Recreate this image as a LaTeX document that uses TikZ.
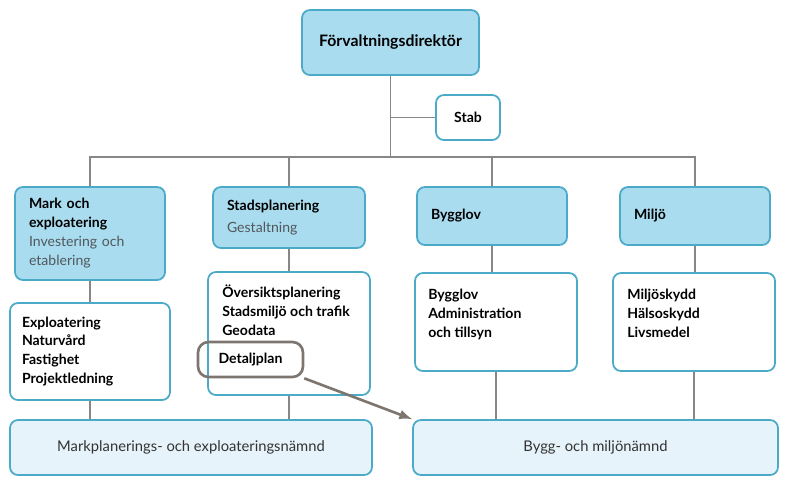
\documentclass[tikz,border=0pt]{standalone}
\usepackage{fontspec}
\setmainfont{Lato}
\usepackage{tikz}

\definecolor{unitblue}{RGB}{170,220,240}
\definecolor{unitedge}{RGB}{75,170,200}
\definecolor{boardblue}{RGB}{230,243,250}
\definecolor{linkgray}{RGB}{135,135,135}
\definecolor{ringgray}{RGB}{125,118,112}
\definecolor{subgray}{RGB}{80,88,92}

\tikzset{
  unit/.style={draw=unitedge, line width=1pt, rounded corners=4.5pt, fill=unitblue,
    font=\bfseries\fontsize{8}{10.8}\selectfont},
  dept/.style={unit, align=left, inner xsep=0.28cm},
  tasks/.style={draw=unitedge, line width=1pt, rounded corners=4.5pt, fill=white,
    minimum width=3.24cm, minimum height=1.96cm},
  tasklist/.style={anchor=base west, inner sep=0pt, align=left,
    font=\bfseries\fontsize{8}{10.8}\selectfont},
  board/.style={draw=unitedge, line width=1pt, rounded corners=4.5pt, fill=boardblue,
    minimum height=1.1cm, text=black!80, font=\fontsize{8.4}{10}\selectfont},
  conn/.style={draw=linkgray, line width=1pt},
  ring/.style={draw=ringgray, line width=1.5pt, rounded corners=6pt},
}

\begin{document}
\begin{tikzpicture}[x=0.02cm, y=-0.02cm]
  \useasboundingbox (0,0) rectangle (790,478);

  \node [unit, minimum width=3.54cm, minimum height=1.3cm, font=\bfseries\fontsize{9}{11}\selectfont] (1) at (390.5,42.5) {Förvaltningsdirektör};
  \node [unit, fill=white, minimum width=1.28cm, minimum height=0.9cm] (2) at (468,117.5) {Stab};

  \node [dept, text width=2.44cm, minimum height=1.86cm] (3) at (90,233.5)
    {Mark och\\exploatering\\{\normalfont\color{subgray}Investering och}\\{\normalfont\color{subgray}etablering}};
  \node [dept, text width=2.48cm, minimum height=1.22cm] (4) at (289,217.5)
    {Stadsplanering\\[2pt]{\normalfont\color{subgray}Gestaltning}};
  \node [dept, text width=2.44cm, minimum height=1.16cm] (5) at (492,216) {Bygglov};
  \node [dept, text width=2.44cm, minimum height=1.16cm] (6) at (695,216) {Miljö};

  \node [tasks, minimum width=3.2cm, minimum height=1.94cm, align=left, text width=2.72cm,
    inner xsep=0.24cm, font=\bfseries\fontsize{8}{10.8}\selectfont] (7) at (90,351.5)
    {Exploatering\\Naturvård\\Fastighet\\Projektledning};
  \node [tasks, minimum height=2.46cm] (8) at (289,333.5) {};
  \node [tasks] (9) at (496,322) {};
  \node [tasks] (10) at (694,322) {};

  \node [tasklist] (8a) at (222,335) {Översiktsplanering\\Stadsmiljö och trafik\\Geodata};
  \node [tasklist] (9a) at (428,337) {Bygglov\\Administration\\och tillsyn};
  \node [tasklist] (10a) at (627,337) {Miljöskydd\\Hälsoskydd\\Livsmedel};

  \node [board, minimum width=7.24cm] (11) at (191,447.5) {Markplanerings- och exploateringsnämnd};
  \node [board, minimum width=7.3cm] (12) at (595.5,447.5) {Bygg- och miljönämnd};

  \node [ring, minimum width=2.1cm, minimum height=0.7cm,
    font=\bfseries\fontsize{8}{10.8}\selectfont] (13) at (250.5,359.5) {Detaljplan};

  \coordinate (bar) at (390.5,157);
  \draw [conn] (1) -- (bar);
  \draw [conn] (2) -- (2 -| 1);
  \draw [conn] (3.north) |- (bar) -| (6.north);
  \draw [conn] (4.north) -- (4.north |- bar);
  \draw [conn] (5.north) -- (5.north |- bar);

  \draw [conn] (3) -- (7);
  \draw [conn] (4) -- (8);
  \draw [conn] (5.south) -- (5.south |- 9.north);
  \draw [conn] (6.south) -- (6.south |- 10.north);

  \draw [conn] (7.south) -- (7.south |- 11.north);
  \draw [conn] (8.south) -- (8.south |- 11.north);
  \draw [conn] (9.south) -- (9.south |- 12.north);
  \draw [conn] (10.south) -- (10.south |- 12.north);

  \draw [ring, -latex] (13.south east) -- (12.north west);
\end{tikzpicture}
\end{document}
